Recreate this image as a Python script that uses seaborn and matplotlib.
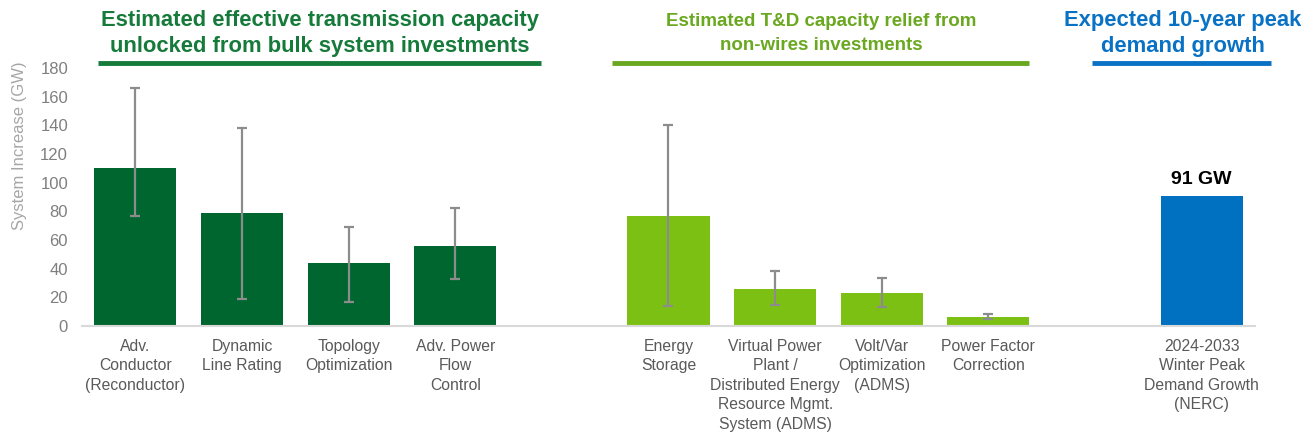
import pandas as pd
import numpy as np
import matplotlib
matplotlib.use("Agg")
import matplotlib.pyplot as plt
import matplotlib.transforms as mtransforms
import seaborn as sns

# ── data ─────────────────────────────────────────────────────────────────────
categories = ["Adv.\nConductor\n(Reconductor)", "Dynamic\nLine Rating",
              "Topology\nOptimization", "Adv. Power\nFlow\nControl",
              "Energy\nStorage",
              "Virtual Power\nPlant /\nDistributed Energy\nResource Mgmt.\nSystem (ADMS)",
              "Volt/Var\nOptimization\n(ADMS)", "Power Factor\nCorrection",
              "2024-2033\nWinter Peak\nDemand Growth\n(NERC)"]
groups = ["bulk", "bulk", "bulk", "bulk", "nonwires", "nonwires", "nonwires", "nonwires", "demand"]
values = [110, 79, 44, 56, 77, 26, 23, 6, 91]
err_low = [77, 19, 16.5, 33, 14, 15, 13, 4.7, np.nan]
err_high = [166, 138.5, 69, 82, 140, 38.5, 33.5, 8.2, np.nan]

# slot order incl. two blank spacers between the groups
order = categories[:4] + [" "] + categories[4:8] + ["  "] + categories[8:]

palette = {"bulk": "#00662F", "nonwires": "#7DC014", "demand": "#0070C0"}
title_cols = {"bulk": "#157A3A", "nonwires": "#6AA820", "demand": "#0A72C4"}

df = pd.DataFrame({"cat": categories, "group": groups, "val": values,
                   "lo": err_low, "hi": err_high})

sns.set_theme(style="white")
plt.rcParams["font.family"] = ["Liberation Sans", "DejaVu Sans"]

fig = plt.figure(figsize=(13.14, 4.38), dpi=100)
ax = fig.add_axes([0.0624, 0.2557, 0.8927, 0.589])

sns.barplot(data=df, x="cat", y="val", hue="group", order=order, palette=palette,
            dodge=False, width=0.77, legend=False, ax=ax, errorbar=None,
            edgecolor="none", saturation=1)

# error bars (asymmetric, gray)
xpos = [order.index(c) for c in df["cat"]]
mask = df["lo"].notna()
ax.errorbar(np.array(xpos)[mask], df["val"][mask],
            yerr=[df["val"][mask] - df["lo"][mask], df["hi"][mask] - df["val"][mask]],
            fmt="none", ecolor="#8C8C8C", elinewidth=1.6, capsize=3.5, capthick=1.6, zorder=5)

# value label on demand bar
for x, (_, r) in zip(xpos, df.iterrows()):
    if r["group"] == "demand":
        ax.text(x, r["val"] + 5, f"{r['val']:.0f} GW", ha="center", va="bottom",
                fontsize=14, fontweight="bold", color="black")

ax.set_xlim(-0.5, len(order) - 0.5)
ax.set_ylim(0, 180)
ax.set_yticks(range(0, 181, 20))
ax.tick_params(axis="y", labelsize=12, labelcolor="#7F7F7F", length=0, pad=10)
ax.tick_params(axis="x", labelsize=11.3, labelcolor="#595959", length=0, pad=9)
for lbl in ax.get_xticklabels():
    lbl.set_linespacing(1.38)
ax.set_xlabel("")
ax.set_ylabel("System Increase (GW)", fontsize=12, color="#A6A6A6")
ax.yaxis.set_label_coords(-0.047, 0.70)
for s in ["top", "right", "left"]:
    ax.spines[s].set_visible(False)
ax.spines["bottom"].set_color("#D9D9D9")
ax.spines["bottom"].set_linewidth(1.5)

# section headers with underlines
trans = mtransforms.blended_transform_factory(ax.transData, ax.transAxes)
headers = [("bulk", "Estimated effective transmission capacity\nunlocked from bulk system investments",
            1.73, -0.35, 3.80, 15.8),
           ("nonwires", "Estimated T&D capacity relief from\nnon-wires investments",
            6.43, 4.47, 8.38, 13.5),
           ("demand", "Expected 10-year peak\ndemand growth",
            9.82, 8.97, 10.65, 15.8)]
for g, txt, cx, x0, x1, fs in headers:
    ax.text(cx, 1.133, txt, transform=trans, ha="center", va="center",
            fontsize=fs, fontweight="bold", color=title_cols[g],
            linespacing=1.33 * 15.8 / fs)
    ax.plot([x0, x1], [1.019, 1.019], transform=trans, color=title_cols[g],
            lw=3.5, clip_on=False, solid_capstyle="butt")

fig.savefig("out.png", dpi=100)
